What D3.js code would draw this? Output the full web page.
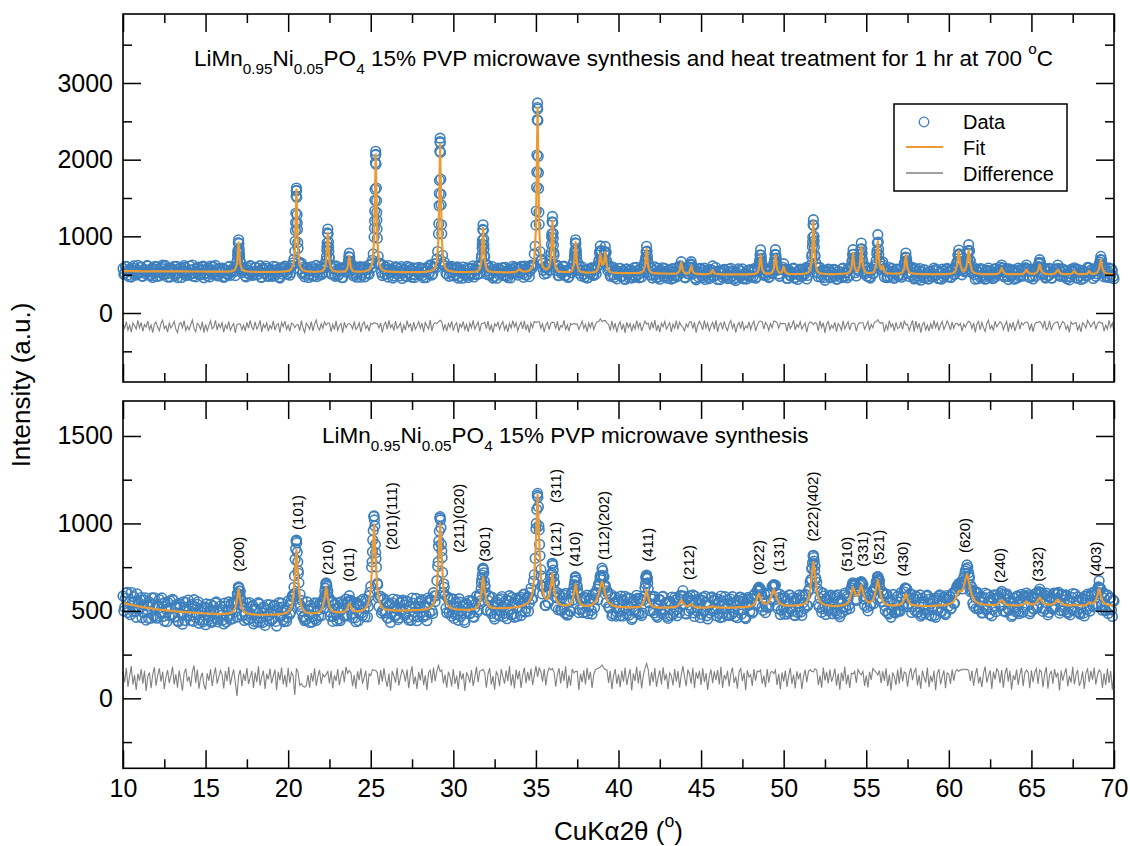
<!DOCTYPE html>
<html>
<head>
<meta charset="utf-8">
<script src="https://cdn.jsdelivr.net/npm/d3@7"></script>
<style>
  body { margin: 0; background: #fff; }
  text { font-family: "Liberation Sans", Arial, Helvetica, sans-serif; fill: #000; }
</style>
</head>
<body>
<svg id="chart" width="1130" height="846"></svg>
<script>
// ---- Scan: 2θ positions, 0.1° step from 10° to 70°, plus the in-between readings ----
const twoTheta = d3.range(601).map(i => Math.round((10 + i * 0.1) * 10) / 10);
const twoThetaMid = d3.range(600).map(i => Math.round((10.05 + i * 0.1) * 100) / 100);

// ---- Upper pattern: heat treated 1 hr at 700 °C ----
// calculated (fit) intensity at each scan position, one row per degree
const topFit = [
545,545,545,545,545,545,545,545,545,545,
544,544,544,544,544,544,544,544,544,544,
543,543,543,543,543,543,543,543,543,543,
542,542,542,542,542,542,542,542,542,542,
541,541,541,541,541,541,541,541,541,541,
540,540,540,540,540,540,540,540,540,540,
539,539,539,539,539,544,547,554,571,638,
920,637,570,553,546,543,541,539,538,538,
537,537,537,537,537,537,537,537,537,537,
536,536,536,537,537,538,539,540,543,547,
550,559,576,624,820,1610,820,624,576,559,
550,545,542,540,539,538,537,538,539,541,
545,554,577,671,1050,671,577,554,546,542,
540,539,539,540,543,551,588,740,588,551,
543,541,539,540,540,541,543,547,554,566,
590,660,940,2070,940,660,590,566,554,547,
543,541,540,538,537,536,535,535,534,534,
534,533,533,533,533,533,533,533,533,534,
534,535,536,537,539,542,547,553,567,593,
669,973,2200,973,669,593,567,553,547,542,
539,537,536,535,535,534,535,534,535,536,
534,535,536,538,543,551,577,683,1110,683,
577,551,543,538,536,535,534,533,532,532,
530,530,530,531,531,532,533,534,540,552,
572,553,542,541,544,547,556,573,608,705,
1096,2680,1096,709,614,581,570,572,597,716,
1205,709,585,554,544,538,537,535,535,537,
534,540,558,632,925,632,558,540,534,532,
527,527,527,528,529,531,536,550,610,775,
629,634,793,613,554,534,528,525,524,523,
522,521,521,521,521,521,521,521,522,522,
520,521,523,525,530,545,603,840,603,545,
527,522,520,518,517,516,515,515,515,515,
512,512,513,513,514,515,524,551,660,551,
523,517,520,538,610,538,518,513,511,510,
507,507,507,508,509,512,520,560,520,512,
509,507,506,505,505,505,505,505,505,505,
505,505,505,505,505,505,505,505,505,506,
507,508,510,514,526,571,755,572,528,517,
514,514,517,528,573,760,573,530,523,536,
604,534,517,510,509,509,509,508,509,510,
509,510,512,515,520,531,562,688,1195,688,
562,531,520,515,512,510,509,508,507,507,
508,508,509,509,510,511,512,514,516,520,
535,583,782,587,545,549,610,869,610,544,
527,522,521,523,529,547,624,934,630,569,
616,543,523,518,516,515,514,513,514,514,
516,520,531,576,760,576,531,520,516,514,
512,510,509,508,508,507,507,507,507,507,
505,505,506,506,506,507,507,507,508,509,
512,514,518,528,549,626,811,630,558,546,
560,636,825,632,552,528,519,515,512,510,
508,507,507,506,506,506,506,507,508,510,
516,536,585,536,516,510,508,507,507,507,
506,506,507,508,510,515,530,566,530,515,
512,512,514,522,554,630,554,522,514,511,
509,508,508,510,514,530,565,530,514,510,
508,507,507,508,510,522,550,522,510,508,
507,506,507,510,518,550,518,510,512,518,
531,579,695,579,531,518,512,510,508,507,
507
];
// observed minus calculated at each scan position
const topDiff = [
36,-24,62,-50,14,-76,44,8,-34,78,
-18,52,-66,24,-8,70,-42,18,-80,30,
56,-12,-58,38,82,-30,6,-74,42,-20,
12,66,-36,-80,28,50,-16,76,-54,4,
-46,22,84,-26,-70,40,16,-38,60,-82,
26,-56,10,72,-32,-6,80,-48,34,-14,
48,-76,20,-28,64,-52,2,38,-84,24,
35,32,-44,16,-62,54,-22,78,-10,-40,
58,-34,6,80,-72,28,-18,46,-60,12,
-30,74,-50,20,36,-82,52,-4,68,-38,
18,-66,42,30,-16,20,24,-54,76,-24,
-78,44,10,-36,62,-58,32,82,-12,-48,
34,-22,60,16,45,44,-68,26,-42,72,
-52,8,38,-80,54,-18,28,40,22,-32,
66,-40,-10,48,-74,24,58,-28,12,-62,
40,28,50,40,36,-20,44,-78,18,54,
-36,78,-14,22,-56,70,-26,4,46,-84,
20,-48,74,-8,32,-68,56,-38,10,62,
-24,42,-76,52,6,-32,82,-58,28,50,
36,60,80,60,-44,22,-60,38,-14,68,
-54,16,48,-82,30,-10,64,-42,26,-72,
44,-18,80,-34,12,58,-64,36,40,52,
-28,70,-52,18,-80,34,4,54,-38,24,
62,-44,14,-70,40,-22,76,-6,48,-58,
10,56,-32,72,-48,26,-82,42,-16,66,
50,60,60,-24,34,-74,16,52,-40,40,
55,48,-30,66,-56,12,-8,78,-46,20,
-62,36,24,40,30,30,-38,14,68,-26,
28,-72,46,-16,58,-42,22,60,65,100,
60,75,75,45,26,-54,72,-28,42,-78,
16,62,-44,32,-84,54,-12,38,-66,24,
-34,76,-18,50,-60,8,70,30,44,-50,
58,-26,82,-54,20,-76,40,-4,66,-36,
6,48,-70,30,-22,74,-40,56,10,-14,
-58,32,-8,60,60,-30,52,-80,18,68,
24,-46,78,-20,42,-64,10,54,-34,80,
-72,22,46,-38,64,-12,-56,34,76,-24,
40,-82,16,52,-30,70,-48,6,-18,58,
-42,28,68,-60,14,60,70,60,-36,50,
20,-52,38,-16,70,66,50,-22,46,30,
40,36,-66,54,-28,12,78,-44,24,-10,
62,-34,8,44,-76,30,58,50,22,52,
36,-58,72,-14,48,-84,26,64,-40,16,
-22,54,-68,38,4,-50,74,-32,18,60,
-44,30,44,40,-62,22,50,44,50,-36,
14,66,-52,28,-18,56,60,87,50,40,
50,-74,20,-42,76,-8,34,-60,52,-26,
-16,58,-38,70,22,30,-54,12,78,-70,
68,-24,42,-80,26,54,-46,16,-62,36,
-32,80,-14,48,-56,22,64,-40,8,74,
22,-48,56,-26,38,40,10,40,-60,30,
-10,40,66,50,-28,46,-78,32,62,-44,
52,-16,-66,38,80,-34,12,-54,70,-6,
28,60,40,-42,18,66,-72,44,-24,56,
-60,14,78,-36,48,20,50,60,40,-52,
38,-68,26,56,50,65,40,-18,72,-46,
-20,74,-50,16,46,50,60,-32,22,64,
42,-38,10,-76,58,28,40,50,-54,18,
-70,48,24,-22,76,40,-8,34,60,-40,
32,60,44,46,-60,16,-34,78,-12,44,
-60
];
// observed counts at the in-between positions (10.05°, 10.15°, ...)
const topObsMid = [
505,607,553,474,578,530,615,493,566,517,
599,481,561,514,618,536,486,585,522,610,
477,572,531,603,498,620,510,555,469,581,
566,487,610,523,587,464,547,595,505,533,
612,517,480,577,538,599,494,560,613,511,
522,588,470,567,604,504,551,483,583,536,
574,477,560,499,608,528,560,540,610,790,
778,600,548,592,470,561,503,611,489,542,
597,502,551,465,584,517,612,488,543,568,
478,559,602,522,469,576,507,593,545,508,
584,526,619,700,1180,1175,666,634,511,599,
504,586,463,552,597,490,541,474,570,604,
505,602,591,865,860,626,514,610,479,563,
495,588,463,568,576,542,679,675,607,486,
584,466,552,604,498,592,472,566,520,635,
587,770,1470,1465,740,652,527,626,507,567,
469,572,539,456,561,591,512,483,605,526,
567,474,519,594,498,549,461,580,532,505,
585,490,542,462,584,523,616,511,600,590,
802,1560,1550,752,665,520,586,479,595,526,
578,500,601,475,539,453,564,516,590,490,
509,587,470,570,502,625,605,895,890,640,
502,590,511,605,477,544,453,566,520,587,
494,594,481,548,457,571,515,600,520,572,
528,599,467,568,497,612,547,624,621,872,
1840,1830,801,695,557,597,517,629,631,990,
976,602,617,487,574,516,604,487,553,464,
575,526,638,778,788,558,608,483,561,470,
562,464,530,588,498,581,510,614,786,813,
668,792,790,554,604,494,599,465,551,506,
583,479,545,446,570,512,460,559,493,591,
468,549,458,572,525,627,726,741,537,589,
455,554,497,583,468,531,590,477,537,454,
560,482,578,457,536,475,596,615,590,574,
459,548,511,629,594,586,452,541,469,581,
481,559,438,520,467,568,558,483,537,496,
549,435,514,562,474,503,573,457,528,441,
520,459,576,485,543,446,510,443,553,492,
565,477,554,470,579,695,710,514,580,493,
559,474,588,527,695,715,559,479,573,596,
565,569,450,539,487,577,456,532,438,550,
478,570,503,591,489,590,583,925,940,648,
525,594,468,539,460,552,498,568,460,522,
568,480,442,543,503,578,468,526,459,569,
587,686,723,525,604,550,763,777,533,597,
478,558,455,569,518,632,811,831,570,641,
575,584,460,550,470,581,459,530,573,485,
563,467,568,670,685,513,591,498,565,455,
542,448,580,490,461,563,516,444,534,475,
554,481,569,451,520,440,545,498,572,471,
554,465,552,502,635,752,764,558,599,537,
630,780,813,553,603,500,564,447,529,579,
460,527,447,556,493,541,448,570,475,520,
565,543,588,473,572,474,575,490,553,443,
538,458,561,487,576,483,593,573,471,558,
483,575,478,572,642,657,517,578,455,546,
487,568,453,525,566,538,578,478,577,480,
545,445,520,470,563,532,557,457,567,483,
543,449,529,485,592,517,568,450,547,512,
596,663,693,521,585,469,538,460,575,477
];
// extra observed points recorded across the narrow reflections [2θ, counts]
const topPeakObs = [
[16.92,690],[16.94,751],[16.96,820],[16.98,918],[17.02,905],[17.04,833],[17.06,740],[17.08,684],
[20.42,935],[20.44,1075],[20.46,1300],[20.48,1525],[20.49,1595],[20.51,1600],[20.52,1510],[20.54,1282],[20.56,1090],[20.58,920],
[22.32,740],[22.34,818],[22.36,915],[22.38,1045],[22.42,1030],[22.44,925],[22.46,808],[22.48,731],
[23.64,660],[23.67,735],[23.73,726],[23.76,652],
[25.22,1105],[25.23,1200],[25.24,1330],[25.26,1615],[25.28,1960],[25.29,2060],[25.31,2070],[25.32,1940],[25.34,1630],[25.36,1310],[25.37,1210],[25.38,1095],
[29.12,1165],[29.14,1400],[29.16,1730],[29.18,2110],[29.19,2235],[29.21,2220],[29.22,2095],[29.24,1745],[29.26,1410],[29.28,1150],
[31.72,755],[31.74,845],[31.76,950],[31.78,1090],[31.82,1080],[31.84,962],[31.86,835],[31.88,748],
[35.02,1330],[35.04,1640],[35.06,2060],[35.08,2520],[35.09,2680],[35.11,2660],[35.12,2510],[35.14,2045],[35.16,1625],[35.18,1315],
[35.92,790],[35.94,895],[35.96,1030],[35.98,1190],[36.02,1180],[36.04,1040],[36.06,885],[36.08,785],
[37.32,680],[37.34,742],[37.36,818],[37.38,915],[37.42,908],[37.44,825],[37.46,735],[37.48,676],
[38.84,700],[38.87,805],[38.93,812],[38.96,705],
[39.14,695],[39.17,800],[39.23,795],[39.26,690],
[41.64,695],[41.67,800],[41.73,806],[41.76,690],
[44.37,640],[44.43,630],
[48.54,665],[48.57,760],[48.63,752],[48.66,660],
[49.44,668],[49.47,765],[49.53,758],[49.56,662],
[51.72,765],[51.74,865],[51.76,990],[51.78,1150],[51.82,1140],[51.84,1000],[51.86,858],[51.88,756],
[54.14,668],[54.17,762],[54.23,765],[54.26,665],
[54.64,712],[54.67,832],[54.73,838],[54.76,708],
[55.64,768],[55.67,915],[55.73,925],[55.76,760],
[57.34,650],[57.37,728],[57.43,722],[57.46,645],
[60.54,670],[60.57,765],[60.63,770],[60.66,668],
[61.14,700],[61.17,815],[61.23,810],[61.26,695],
[65.44,600],[65.47,660],[65.53,655],[65.56,598],
[69.14,625],[69.17,695],[69.23,690],[69.26,620]
];
const topDiffOffset = -175;

// ---- Lower pattern: as-synthesised ----
const botFit = [
545,543,541,539,537,535,533,531,529,527,
525,523,522,520,519,517,516,514,513,511,
510,509,507,506,505,504,503,502,501,500,
499,498,497,496,496,495,494,493,493,492,
491,491,490,490,489,488,488,487,487,486,
485,485,484,484,484,483,483,482,482,482,
483,483,484,484,485,488,492,500,518,564,
623,564,517,499,491,486,484,482,481,480,
479,479,478,478,478,478,478,478,478,479,
478,479,479,480,481,481,482,484,487,490,
496,507,527,575,695,848,695,577,529,509,
494,491,488,487,486,487,488,488,490,495,
504,524,573,637,573,524,505,498,494,493,
493,492,493,494,495,502,520,542,523,505,
499,497,497,499,500,504,508,516,531,559,
624,788,995,788,625,562,534,519,511,508,
508,506,504,504,503,502,502,502,502,502,
504,503,503,503,503,504,504,505,505,506,
505,506,507,509,511,514,519,527,542,569,
633,795,1000,795,633,569,542,528,520,516,
513,511,509,508,507,507,507,506,506,506,
508,509,510,512,518,528,552,614,692,614,
556,533,524,519,517,517,515,515,515,516,
516,516,516,517,517,519,519,521,522,523,
526,527,530,533,540,544,555,573,608,690,
900,1163,903,696,616,583,570,568,584,637,
715,631,572,551,541,535,532,531,531,531,
534,539,555,599,654,600,556,540,533,530,
529,529,530,533,536,542,552,569,596,637,
667,636,595,567,550,540,533,529,526,524,
523,522,521,521,521,520,520,519,520,520,
521,522,523,525,531,544,576,620,576,544,
531,525,522,521,520,519,519,519,520,520,
519,520,521,521,522,524,530,544,563,546,
533,527,527,532,540,531,524,521,520,519,
519,519,519,519,520,521,524,527,524,521,
520,520,519,519,519,519,519,519,519,519,
520,520,520,521,521,522,522,523,523,524,
527,530,537,549,575,598,576,553,543,541,
544,551,569,600,623,599,568,550,541,537,
532,531,530,530,530,530,530,531,532,533,
533,535,538,544,554,574,615,701,780,701,
616,575,555,545,539,535,533,531,530,529,
528,528,528,529,530,531,533,536,540,549,
567,602,636,609,585,587,616,647,611,574,
558,551,549,552,561,582,629,677,628,580,
555,544,538,535,532,532,531,532,532,533,
536,540,548,572,599,572,548,538,534,532,
530,530,529,529,528,528,528,528,528,528,
529,529,530,530,531,532,532,533,535,536,
539,542,547,555,570,593,615,613,613,636,
678,711,673,624,589,569,556,549,543,539,
538,536,535,535,534,533,533,533,534,536,
542,553,563,552,541,536,533,532,532,532,
531,531,531,532,534,538,546,554,545,539,
537,537,540,546,562,577,562,547,540,537,
536,535,536,539,544,556,565,556,544,538,
534,533,532,532,532,533,535,533,532,532,
531,531,532,533,542,549,545,543,547,559,
589,625,589,558,545,539,536,534,533,532,
532
];
const botDiff = [
40,-22,61,-48,14,70,-35,19,-66,27,
-13,53,-30,43,-72,10,34,-56,22,64,
-42,18,58,-19,37,-62,6,48,-27,14,
67,-34,24,-53,45,-10,-70,30,56,-18,
11,-46,38,74,-26,50,-59,5,32,-38,
-64,29,-13,54,-43,19,62,-30,8,46,
22,-58,42,-16,66,-37,13,51,-24,-100,
14,48,-45,27,-14,59,-32,6,43,-54,
34,-21,69,-40,10,45,-61,26,-6,56,
-29,14,50,-67,38,-11,62,-35,21,-50,
61,-26,35,16,-95,57,35,-40,-30,-45,
-50,-40,19,-53,30,-19,58,-43,13,48,
-32,24,8,23,40,-29,43,-58,18,-14,
53,-38,11,46,-22,66,29,45,32,-45,
19,-59,40,-10,58,-30,5,45,-66,26,
16,50,48,45,32,-37,48,-19,59,-8,
-48,27,-70,42,14,-24,61,-42,6,50,
30,-18,51,-56,22,69,-34,11,-61,37,
-11,58,-38,18,-67,32,46,-26,62,-16,
40,75,39,48,-29,21,-53,38,10,-46,
54,-32,16,-62,43,-5,29,-72,35,13,
-24,48,-43,6,66,-21,42,45,52,32,
-53,26,59,-34,13,-64,38,19,-45,53,
10,-30,45,-14,70,-42,24,-58,50,-6,
43,-54,19,61,-27,37,-13,56,-38,16,
70,9,60,40,-19,53,-40,29,60,48,
57,35,-48,22,58,-29,43,-14,69,-56,
18,-42,54,32,40,40,-66,26,-21,46,
-35,61,-8,38,-54,21,50,55,60,65,
77,60,50,48,-26,42,-61,14,54,-32,
24,-50,43,-19,62,-38,10,53,-69,29,
-14,67,-29,45,-58,18,56,85,50,-43,
37,-22,59,-48,8,46,-34,64,-11,26,
-62,32,14,-40,54,-18,42,-53,21,70,
6,-45,50,24,-30,61,-56,35,-3,43,
-38,58,-21,30,-66,13,51,-27,40,-10,
48,-34,66,-54,19,-5,43,-46,27,62,
-26,11,-59,38,56,-16,32,-67,46,8,
21,-43,53,-13,42,38,48,-30,16,-51,
54,-24,35,40,27,48,-38,26,-62,34,
-18,45,-48,14,59,-32,22,-58,40,-6,
32,-61,10,50,-22,40,50,40,38,55,
48,-37,16,-53,62,-11,38,-29,51,-19,
13,56,-42,27,-64,35,-14,66,-34,22,
-54,29,25,40,-26,50,32,20,40,-43,
18,-51,38,-8,56,45,35,19,45,-27,
42,-14,58,-45,22,-69,34,11,-38,51,
-30,64,-18,37,30,-48,26,59,-10,38,
56,-40,19,-59,45,6,-24,62,-50,14,
-21,43,-67,29,53,-34,10,46,-56,32,
24,-32,50,-13,40,50,40,50,48,55,
50,52,45,-14,45,-42,22,59,-29,10,
-50,30,67,-24,16,46,-61,37,-6,54,
38,-27,48,-53,26,62,-19,43,-64,18,
-10,50,-37,21,61,-45,30,48,35,-56,
46,-22,34,56,-32,48,38,-50,24,64,
-59,19,43,-30,53,8,32,-69,45,-13,
27,58,-46,14,-24,66,-35,22,48,-42,
-16,40,-61,32,54,-21,43,-8,62,-34,
18,48,35,-54,29,-38,56,-26,42,-64,
24
];
const botObsMid = [
499,572,606,518,478,546,581,496,598,517,
562,461,535,575,491,457,539,574,472,516,
458,529,492,574,469,549,438,512,558,476,
561,468,537,438,521,483,552,445,509,562,
471,538,440,523,484,552,447,505,437,522,
540,447,496,434,528,461,551,437,509,475,
448,544,436,505,472,542,456,544,551,599,
614,531,553,445,519,450,548,460,531,440,
507,435,540,460,433,518,470,536,443,493,
453,533,440,505,547,468,521,438,501,463,
531,492,586,635,855,835,661,523,559,466,
450,551,477,531,436,515,455,545,472,537,
554,513,630,640,578,469,556,468,537,443,
517,444,553,472,536,471,551,562,479,550,
460,547,443,532,488,568,467,548,525,606,
750,960,985,750,575,585,487,565,488,543,
459,541,484,568,467,514,450,546,496,561,
474,555,459,523,446,544,493,571,466,524,
554,465,530,475,573,491,561,485,586,586,
755,955,975,720,635,515,580,491,570,494,
457,550,484,570,467,525,447,536,494,559,
489,555,463,540,493,580,558,705,718,605,
505,584,500,578,467,544,480,563,504,582,
468,536,455,559,508,577,482,548,468,560,
579,499,596,493,572,498,604,566,669,800,
1080,1095,815,640,640,532,604,546,655,716,
733,582,607,506,590,504,592,486,556,481,
499,597,562,670,676,603,508,572,490,575,
573,484,560,502,594,519,601,563,647,692,
702,646,546,604,515,593,483,548,470,562,
498,584,471,557,513,574,476,542,460,561,
492,571,482,558,488,585,690,685,545,583,
583,488,542,463,564,504,581,480,546,468,
550,473,579,497,563,472,555,589,535,585,
485,565,500,586,561,488,583,499,568,461,
561,499,584,472,531,487,580,511,559,471,
548,462,559,489,581,475,535,569,481,544,
468,554,505,579,482,568,463,543,578,496,
569,496,598,537,620,615,595,503,594,523,
518,605,565,642,646,604,514,596,504,583,
482,559,495,592,512,574,475,568,491,591,
494,589,513,589,529,625,678,775,785,684,
626,523,606,512,585,479,567,511,590,483,
573,500,591,480,551,492,590,523,583,533,
620,649,643,567,626,627,662,654,568,606,
520,598,531,607,542,636,675,680,574,613,
600,501,595,482,560,502,594,487,553,499,
498,574,535,630,625,540,598,491,571,501,
578,494,591,479,553,486,584,508,568,471,
559,475,575,503,592,492,557,486,588,523,
581,515,603,543,627,634,654,648,665,667,
740,748,689,622,544,611,513,601,511,581,
489,576,505,595,482,561,508,592,495,574,
578,600,533,595,494,587,503,552,477,572,
495,586,484,563,521,587,580,530,592,496,
579,509,598,519,610,605,515,594,511,583,
491,574,516,602,520,601,606,502,593,501,
584,493,560,477,577,509,596,495,562,482,
566,487,585,508,586,499,602,523,598,539,
637,632,534,604,507,586,485,574,505,562
];
const botPeakObs = [
[16.88,560],[16.92,598],[16.98,635],[17.02,630],[17.08,590],[17.12,568],
[20.28,580],[20.38,700],[20.42,795],[20.48,900],[20.52,890],[20.58,780],[20.62,715],[20.72,595],
[22.18,570],[22.22,612],[22.28,655],[22.32,650],[22.38,600],[22.42,580],
[25.08,780],[25.12,905],[25.18,1040],[25.22,1020],[25.28,880],[25.32,800],[25.42,650],
[29.08,780],[29.12,900],[29.18,1030],[29.22,1020],[29.28,880],[29.32,805],[29.42,655],
[31.68,625],[31.72,680],[31.78,740],[31.82,735],[31.88,670],[31.92,640],
[35.02,1000],[35.08,1160],[35.12,1150],[35.18,985],[35.22,880],[35.32,700],
[35.88,650],[35.92,705],[35.98,770],[36.02,760],[36.08,695],[36.12,660],
[37.28,610],[37.32,650],[37.38,694],[37.42,690],[37.48,645],[37.52,618],
[38.8,645],[38.88,690],[39.05,730],[39.12,695],[39.2,635],
[41.63,655],[41.67,698],[41.73,690],[41.77,660],
[48.47,630],[48.53,625],
[49.36,645],[49.44,640],
[51.68,680],[51.72,745],[51.78,815],[51.82,805],[51.88,730],[51.92,690],
[54.17,655],[54.23,650],[54.67,665],[54.73,660],
[55.58,628],[55.62,662],[55.68,695],[55.72,690],[55.78,655],[55.82,632],
[57.37,630],[57.43,625],
[60.82,625],[60.9,660],[60.98,715],[61.22,700],[61.3,650],[61.38,615],
[69.07,635],[69.13,630]
];
const botDiffOffset = 114;

// ---- Miller indices marked on the lower pattern ----
const hklLabels    = ["(200)","(101)","(210)","(011)","(201)(111)","(211)(020)","(301)","(311)","(121)","(410)","(112)(202)","(411)","(212)","(022)","(131)","(222)(402)","(510)","(331)","(521)","(430)","(620)","(240)","(332)","(403)"];
const hklTwoTheta  = [17.02,20.61,22.39,23.68,26.27,30.30,31.91,36.22,36.22,37.37,39.08,41.80,44.27,48.51,49.72,51.75,53.82,54.76,55.73,57.24,60.94,63.10,65.38,68.89];
const hklIntensity = [724,963,705,667,848,833,781,1117,810,753,791,781,677,705,724,896,724,753,763,696,831,660,667,696];

// ---- Axis ticks ----
const xTicksMajor = d3.range(10, 70.01, 5);
const xTicksMinor = d3.range(12.5, 70, 5);
const topTicksMajor = [0, 1000, 2000, 3000];
const topTicksMinor = [-500, 500, 1500, 2500, 3500];
const botTicksMajor = [0, 500, 1000, 1500];
const botTicksMinor = [-250, 250, 750, 1250];

const legendItems = ["Data", "Fit", "Difference"];

[topFit, topDiff, botFit, botDiff].forEach(a => {
  if (a.length !== twoTheta.length) throw new Error("series length " + a.length);
});
[topObsMid, botObsMid].forEach(a => {
  if (a.length !== twoThetaMid.length) throw new Error("mid series length " + a.length);
});

// ---- Drawing ----
const COL_DATA = "#3d7fbd", COL_FIT = "#ec9a33", COL_DIFF = "#808080";
const FONT = '"Liberation Sans", Arial, Helvetica, sans-serif';

const svg = d3.select("#chart");
svg.append("rect").attr("width", 1130).attr("height", 846).attr("fill", "#fff");

const x = d3.scaleLinear().domain([10, 70]).range([123, 1114]);

const panels = [
  { fit: topFit, diff: topDiff, mid: topObsMid, extra: topPeakObs, offset: topDiffOffset,
    y: d3.scaleLinear().domain([-900, 3900]).range([382, 14]),
    major: topTicksMajor, minor: topTicksMinor, xLabels: false },
  { fit: botFit, diff: botDiff, mid: botObsMid, extra: botPeakObs, offset: botDiffOffset,
    y: d3.scaleLinear().domain([-400, 1700]).range([768.3, 401]),
    major: botTicksMajor, minor: botTicksMinor, xLabels: true }
];

function styleAxis(g, size) {
  g.select(".domain").remove();
  g.selectAll(".tick line").attr("stroke", "#000").attr("stroke-width", 1.5);
  g.selectAll(".tick text").attr("font-size", size).attr("font-family", FONT).attr("fill", "#000");
}

panels.forEach(p => {
  const g = svg.append("g");
  const [yb, yt] = p.y.range();

  // difference curve
  g.append("path")
    .datum(twoTheta.map((t, i) => [t, p.diff[i] + p.offset]))
    .attr("d", d3.line().x(d => x(d[0])).y(d => p.y(d[1])))
    .attr("fill", "none").attr("stroke", COL_DIFF).attr("stroke-width", 1.1);

  // observed points: calculated + difference on the main grid, plus in-between and peak readings
  const obs = twoTheta.map((t, i) => [t, p.fit[i] + p.diff[i]])
    .concat(twoThetaMid.map((t, i) => [t, p.mid[i]]))
    .concat(p.extra)
    .sort((a, b) => a[0] - b[0]);
  g.append("g").selectAll("circle").data(obs).join("circle")
    .attr("cx", d => x(d[0])).attr("cy", d => p.y(d[1])).attr("r", 4.8)
    .attr("fill", "none").attr("stroke", COL_DATA).attr("stroke-width", 1.6);

  // calculated pattern
  g.append("path")
    .datum(twoTheta.map((t, i) => [t, p.fit[i]]))
    .attr("d", d3.line().x(d => x(d[0])).y(d => p.y(d[1])))
    .attr("fill", "none").attr("stroke", COL_FIT).attr("stroke-width", 2.2)
    .attr("stroke-linejoin", "round");

  // axes: ticks point inward on all four sides
  const addY = (axisFn, tx, vals, len, labels) => {
    const a = axisFn(p.y).tickValues(vals).tickSize(-len).tickPadding(10)
      .tickFormat(labels ? d3.format("d") : "");
    svg.append("g").attr("transform", `translate(${tx},0)`).call(a).call(s => styleAxis(s, 25));
  };
  addY(d3.axisLeft, 123, p.major, 18, true);
  addY(d3.axisLeft, 123, p.minor, 9, false);
  addY(d3.axisRight, 1114, p.major, 18, false);
  addY(d3.axisRight, 1114, p.minor, 9, false);

  const addX = (axisFn, ty, vals, len, labels) => {
    const a = axisFn(x).tickValues(vals).tickSize(-len).tickPadding(11)
      .tickFormat(labels ? d3.format("d") : "");
    svg.append("g").attr("transform", `translate(0,${ty})`).call(a).call(s => styleAxis(s, 25));
  };
  addX(d3.axisBottom, yb, xTicksMajor, 18, p.xLabels);
  addX(d3.axisBottom, yb, xTicksMinor, 9, false);
  addX(d3.axisTop, yt, xTicksMajor, 18, false);
  addX(d3.axisTop, yt, xTicksMinor, 9, false);

  svg.append("rect")
    .attr("x", 123).attr("y", yt).attr("width", 1114 - 123).attr("height", yb - yt)
    .attr("fill", "none").attr("stroke", "#000").attr("stroke-width", 1.6);
});

// text with sub/superscript runs
function richText(parent, parts, px, py, size) {
  const t = parent.append("text").attr("x", px).attr("y", py)
    .attr("font-size", size).attr("font-family", FONT);
  let shift = 0;
  parts.forEach(([s, kind]) => {
    const target = kind === "sub" ? size * 0.36 : kind === "sup" ? -size * 0.5 : 0;
    const ts = t.append("tspan").text(s).attr("dy", target - shift);
    if (kind) ts.attr("font-size", size * 0.68);
    shift = target;
  });
  return t;
}

const formula = [["LiMn"], ["0.95", "sub"], ["Ni"], ["0.05", "sub"], ["PO"], ["4", "sub"]];
richText(svg, formula.concat([[" 15% PVP microwave synthesis and heat treatment for 1 hr at 700 "], ["o", "sup"], ["C"]]),
  x(14.3), panels[0].y(3226), 22.5);
richText(svg, formula.concat([[" 15% PVP microwave synthesis"]]),
  x(22.05), panels[1].y(1460), 22.5);

// Miller index labels, reading upward
svg.append("g").selectAll("text").data(hklLabels).join("text")
  .attr("transform", (d, i) => `translate(${x(hklTwoTheta[i])},${panels[1].y(hklIntensity[i])}) rotate(-90)`)
  .attr("dy", "0.35em").attr("font-size", 15).attr("font-family", FONT)
  .text(d => d);

// axis titles
richText(svg, [["CuK\u03b12\u03b8 ("], ["o", "sup"], [")"]], 0, 840, 26)
  .call(t => { const w = t.node().getComputedTextLength(); t.attr("x", (x(10) + x(70)) / 2 - w / 2); });
svg.append("text")
  .attr("transform", "translate(30,385) rotate(-90)")
  .attr("text-anchor", "middle").attr("font-size", 26).attr("font-family", FONT)
  .text("Intensity (a.u.)");

// legend
const lg = svg.append("g");
lg.append("rect").attr("x", 894).attr("y", 104).attr("width", 173).attr("height", 87)
  .attr("fill", "#fff").attr("stroke", "#000").attr("stroke-width", 1.5);
lg.append("circle").attr("cx", 924).attr("cy", 122).attr("r", 4.8)
  .attr("fill", "none").attr("stroke", COL_DATA).attr("stroke-width", 1.3);
lg.append("line").attr("x1", 906).attr("x2", 943).attr("y1", 147).attr("y2", 147)
  .attr("stroke", COL_FIT).attr("stroke-width", 2.2);
lg.append("line").attr("x1", 906).attr("x2", 943).attr("y1", 173).attr("y2", 173)
  .attr("stroke", COL_DIFF).attr("stroke-width", 1.3);
lg.selectAll("text.item").data(legendItems).join("text")
  .attr("class", "item").attr("x", 963).attr("y", (d, i) => 129 + i * 26)
  .attr("font-size", 20).attr("font-family", FONT).text(d => d);
</script>
</body>
</html>
